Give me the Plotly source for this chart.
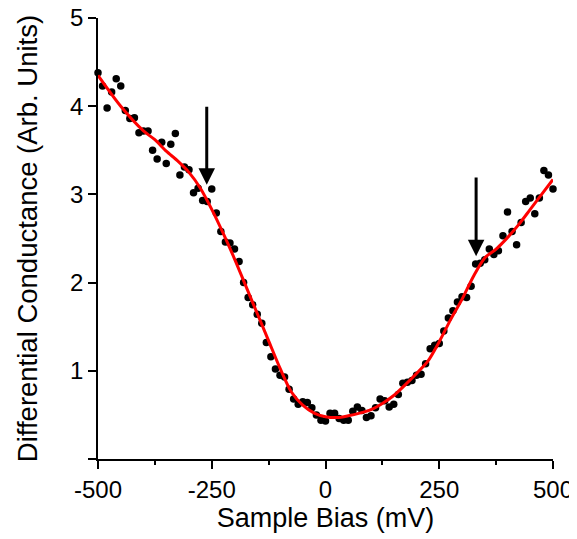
import numpy as np
import plotly.graph_objects as go

# Measured data (Sample Bias in mV, differential conductance in arb. units)
bias_mv = list(range(-500, 501, 10))
conductance = [
    4.38, 4.23, 3.98, 4.16, 4.31, 4.23, 3.95, 3.86, 3.87, 3.70,
    3.72, 3.72, 3.50, 3.40, 3.59, 3.35, 3.57, 3.69, 3.22, 3.31,
    3.28, 3.02, 3.07, 2.93, 2.92, 3.06, 2.79, 2.58, 2.46, 2.45,
    2.38, 2.24, 2.00, 1.83, 1.75, 1.64, 1.54, 1.32, 1.16, 1.02,
    0.95, 0.93, 0.79, 0.68, 0.62, 0.65, 0.64, 0.58, 0.50, 0.44,
    0.43, 0.52, 0.52, 0.46, 0.44, 0.44, 0.54, 0.59, 0.55, 0.47,
    0.49, 0.58, 0.68, 0.66, 0.59, 0.62, 0.73, 0.86, 0.87, 0.89,
    0.95, 0.96, 1.08, 1.25, 1.29, 1.31, 1.45, 1.60, 1.68, 1.78,
    1.84, 1.83, 1.96, 2.21, 2.22, 2.26, 2.38, 2.32, 2.36, 2.53,
    2.80, 2.58, 2.43, 2.68, 2.92, 2.96, 2.78, 2.96, 3.27, 3.22,
    3.06,
]

# Smoothed fit (red curve)
fit_bias_mv = [-500, -450, -400, -375, -350, -325, -300, -275, -250, -225,
               -200, -175, -150, -125, -100, -75, -50, -25, 0, 25,
               50, 75, 100, 125, 150, 175, 200, 225, 250, 275,
               300, 325, 350, 375, 400, 425, 450, 475, 500]
fit_conductance = [4.35, 4.00, 3.72, 3.62, 3.49, 3.38, 3.25, 3.07, 2.83, 2.56,
                   2.27, 1.96, 1.65, 1.34, 1.03, 0.76, 0.61, 0.52, 0.48, 0.47,
                   0.49, 0.52, 0.56, 0.63, 0.72, 0.84, 0.97, 1.11, 1.33, 1.58,
                   1.81, 2.07, 2.28, 2.38, 2.51, 2.66, 2.83, 3.00, 3.17]

# Arrows marking features: (tip_x, tip_y, tail_y)
arrow_x = [-261, 331]
arrow_tip_y = [3.11, 2.30]
arrow_tail_y = [4.01, 3.21]

x_tickvals = [-500, -250, 0, 250, 500]
x_ticktext = ["-500", "-250", "0", "250", "500"]
y_tickvals = [0, 1, 2, 3, 4, 5]
y_ticktext = ["", "1", "2", "3", "4", "5"]

FONT = "Liberation Sans, Arial, sans-serif"

fig = go.Figure()
fig.add_trace(go.Scatter(
    x=bias_mv, y=conductance, mode="markers",
    marker=dict(color="black", size=7.5, line=dict(width=0)),
    cliponaxis=False, showlegend=False,
))
fig.add_trace(go.Scatter(
    x=fit_bias_mv, y=fit_conductance, mode="lines",
    line=dict(color="#ff0000", width=3, shape="spline", smoothing=0.8),
    cliponaxis=False, showlegend=False,
))

for ax_x, tip_y, tail_y in zip(arrow_x, arrow_tip_y, arrow_tail_y):
    fig.add_annotation(
        x=ax_x, y=tip_y, ax=ax_x, ay=tail_y,
        xref="x", yref="y", axref="x", ayref="y",
        showarrow=True, arrowhead=2, arrowsize=1.1, arrowwidth=3,
        arrowcolor="black", text="",
    )

# page body has an 8px default margin, so the figure is sized to fit the window
fig.update_layout(
    width=569, height=531,
    margin=dict(l=90, r=24, t=10, b=80),
    plot_bgcolor="white", paper_bgcolor="white",
    font=dict(family=FONT, size=24, color="black"),
)
fig.update_xaxes(
    range=[-500, 500], tickvals=x_tickvals, ticktext=x_ticktext,
    showline=True, linecolor="black", linewidth=1.5,
    ticks="outside", ticklen=8, tickwidth=1.5, tickcolor="black",
    minor=dict(ticks="outside", ticklen=4, tickwidth=1.5, tickcolor="black",
               dtick=125, tick0=-500),
    showgrid=False, zeroline=False, automargin=False,
    ticklabeloverflow="allow",
    tickfont=dict(size=24),
    title=dict(text="Sample Bias (mV)", font=dict(size=27), standoff=6),
)
fig.update_yaxes(
    range=[0, 5], tickvals=y_tickvals, ticktext=y_ticktext,
    showline=True, linecolor="black", linewidth=1.5,
    ticks="outside", ticklen=8, tickwidth=1.5, tickcolor="black",
    showgrid=False, zeroline=False, automargin=False,
    ticklabeloverflow="allow",
    tickfont=dict(size=24),
    title=dict(text="Differential Conductance (Arb. Units)", font=dict(size=27.5), standoff=24),
)

fig.write_html("out.html")
